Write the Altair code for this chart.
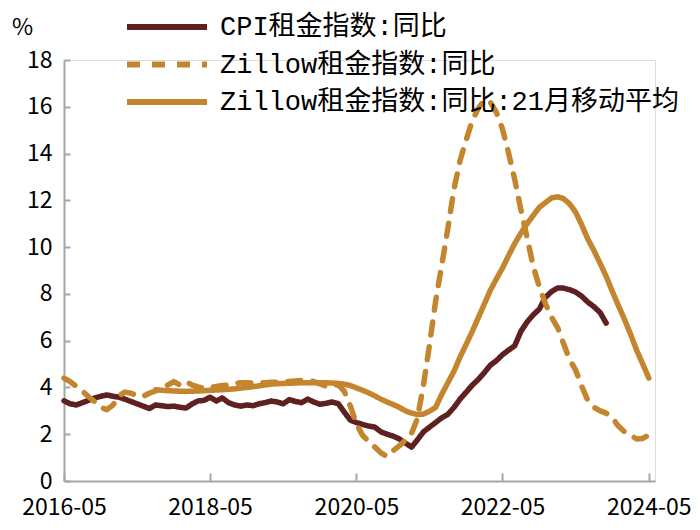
import altair as alt
import pandas as pd

# ---- data (monthly, 2016-05 .. 2024-05) ----
START = "2016-05-01"
N_MONTHS = 97

SERIES = ["CPI租金指数:同比", "Zillow租金指数:同比", "Zillow租金指数:同比:21月移动平均"]

# CPI rent index YoY, 2016-05 .. 2023-10
cpi = [3.43, 3.30, 3.25, 3.35, 3.45, 3.55, 3.62, 3.68, 3.62, 3.58,
       3.50, 3.40, 3.30, 3.20, 3.10, 3.25, 3.22, 3.18, 3.20, 3.15,
       3.12, 3.30, 3.42, 3.45, 3.58, 3.42, 3.55, 3.35, 3.25, 3.20,
       3.25, 3.22, 3.30, 3.35, 3.42, 3.38, 3.30, 3.48, 3.40, 3.35,
       3.50, 3.38, 3.28, 3.32, 3.38, 3.30, 2.95, 2.60, 2.50, 2.42,
       2.35, 2.30, 2.10, 2.00, 1.92, 1.80, 1.62, 1.45, 1.75, 2.10,
       2.30, 2.50, 2.70, 2.85, 3.15, 3.50, 3.80, 4.10, 4.35, 4.65,
       4.95, 5.15, 5.40, 5.60, 5.78, 6.40, 6.80, 7.10, 7.35, 7.85,
       8.10, 8.25, 8.25, 8.18, 8.08, 7.90, 7.65, 7.45, 7.20, 6.75]

# Zillow rent index YoY, 2016-05 .. 2024-05
zillow = [4.40, 4.25, 4.05, 3.85, 3.60, 3.40, 3.15, 3.05, 3.25, 3.65,
          3.80, 3.75, 3.65, 3.62, 3.75, 3.85, 3.95, 4.10, 4.25, 4.10,
          4.25, 4.10, 4.02, 3.97, 4.00, 4.04, 4.08, 4.10, 4.15, 4.20,
          4.20, 4.18, 4.20, 4.20, 4.22, 4.22, 4.25, 4.25, 4.28, 4.30,
          4.32, 4.25, 4.15, 4.05, 4.10, 4.10, 3.85, 3.20, 2.45, 1.95,
          1.70, 1.45, 1.20, 1.05, 1.30, 1.50, 1.75, 2.05, 2.65, 4.10,
          5.80, 7.70, 9.20, 10.80, 12.50, 13.70, 14.60, 15.40, 15.95, 16.30,
          16.20, 15.75, 15.05, 14.00, 12.90, 11.60, 10.40, 9.20, 8.30, 7.60,
          7.00, 6.55, 5.90, 5.20, 4.75, 4.05, 3.45, 3.15, 3.00, 2.90,
          2.70, 2.35, 2.10, 1.95, 1.80, 1.82, 1.97]

# Zillow YoY, 21-month moving average, 2017-08 .. 2024-05
ma_start = 15
zillow_ma = [3.90, 3.88, 3.86, 3.85, 3.84, 3.83, 3.84, 3.85, 3.86, 3.88,
             3.89, 3.90, 3.92, 3.94, 3.97, 4.00, 4.03, 4.07, 4.11, 4.14,
             4.16, 4.17, 4.18, 4.19, 4.20, 4.20, 4.20, 4.20, 4.20, 4.19,
             4.17, 4.14, 4.08, 3.98, 3.88, 3.77, 3.64, 3.50, 3.38, 3.27,
             3.15, 3.00, 2.90, 2.84, 2.86, 2.98, 3.15, 3.70, 4.20, 4.70,
             5.30, 5.85, 6.40, 7.00, 7.60, 8.15, 8.65, 9.10, 9.65, 10.15,
             10.60, 11.00, 11.35, 11.70, 11.90, 12.10, 12.15, 12.08, 11.85, 11.50,
             10.95, 10.35, 9.85, 9.30, 8.75, 8.10, 7.50, 6.90, 6.25, 5.60,
             5.00, 4.40]

X_TICK_YEARS = [2016, 2018, 2020, 2022, 2024]
Y_TICKS = [0, 2, 4, 6, 8, 10, 12, 14, 16, 18]
COLORS = ["#5E2020", "#C3862F", "#C3862F"]

months = pd.date_range(START, periods=N_MONTHS, freq="MS")
rows = []
for i, v in enumerate(cpi):
    rows.append({"date": months[i], "series": SERIES[0], "value": v})
for i, v in enumerate(zillow):
    rows.append({"date": months[i], "series": SERIES[1], "value": v})
for i, v in enumerate(zillow_ma):
    rows.append({"date": months[ma_start + i], "series": SERIES[2], "value": v})
df = pd.DataFrame(rows)

LABEL_FONT = "Liberation Sans Narrow, Noto Sans CJK SC, sans-serif"
LEGEND_FONT = "Liberation Mono, Noto Sans CJK SC, sans-serif"

PLOT_W = 591
PLOT_H = 421

x_scale = alt.Scale(domain=[alt.DateTime(year=2016, month=5, date=1),
                            alt.DateTime(year=2024, month=6, date=1)])
y_scale = alt.Scale(domain=[0, 18], nice=False)
x_vals = [alt.DateTime(year=y, month=5, date=1) for y in X_TICK_YEARS]


def make_legend():
    return alt.Legend(title=None, orient="none", legendX=80, legendY=-56,
                      symbolType="M-2,0H2", symbolSize=1600,
                      symbolStrokeWidth=6, labelFont=LEGEND_FONT,
                      labelFontSize=27, labelColor="#000000",
                      labelOffset=30, rowPadding=1.5, labelLimit=600)


lines = alt.Chart(df).mark_line(strokeWidth=5.5, strokeCap="round", strokeJoin="round").encode(
    x=alt.X("date:T", scale=x_scale,
            axis=alt.Axis(orient="bottom", values=x_vals, format="%Y-%m", title=None,
                          ticks=False, tickSize=0, grid=False, labelPadding=26,
                          labelBaseline="middle",
                          domainColor="#A6A6A6", domainWidth=2,
                          labelFont=LABEL_FONT, labelFontSize=23, labelColor="#000000",
                          labelFlush=False)),
    y=alt.Y("value:Q", scale=y_scale,
            axis=alt.Axis(orient="left", values=Y_TICKS, title="%", titleAngle=0,
                          titleX=-42, titleY=-33, titleAlign="center", titleBaseline="middle",
                          titleFont=LABEL_FONT, titleFontSize=23, titleFontWeight="normal",
                          titleColor="#000000",
                          ticks=False, tickSize=0, grid=False, labelPadding=12,
                          domainColor="#A6A6A6", domainWidth=2,
                          labelFont=LABEL_FONT, labelFontSize=23, labelColor="#000000")),
    color=alt.Color("series:N",
                    scale=alt.Scale(domain=SERIES, range=COLORS),
                    legend=make_legend()),
    strokeDash=alt.StrokeDash("series:N",
                              scale=alt.Scale(domain=SERIES, range=[[1, 0], [13, 12], [1, 0]]),
                              legend=make_legend()),
    order=alt.Order("date:T"),
)

ticks = alt.Chart(df).mark_line(opacity=0).encode(
    x=alt.X("date:T", scale=x_scale,
            axis=alt.Axis(orient="top", offset=-PLOT_H, values=x_vals, labels=False,
                          domain=False, ticks=True, tickSize=8, tickColor="#A6A6A6",
                          tickWidth=2, grid=False, title=None)),
    y=alt.Y("value:Q", scale=y_scale,
            axis=alt.Axis(orient="right", offset=-PLOT_W, values=Y_TICKS, labels=False,
                          domain=False, ticks=True, tickSize=6, tickColor="#A6A6A6",
                          tickWidth=2, grid=False, title=None)),
    detail="series:N",
)

chart = alt.layer(lines, ticks).resolve_axis(x="independent", y="independent").properties(
    width=PLOT_W, height=PLOT_H,
    autosize=alt.AutoSizeParams(type="none"),
    padding={"left": 56, "top": 52, "right": 36, "bottom": 41},
).configure_view(stroke=None).configure(background="#FFFFFF")

chart.save("out.html", embed_options={"renderer": "svg", "actions": False})
